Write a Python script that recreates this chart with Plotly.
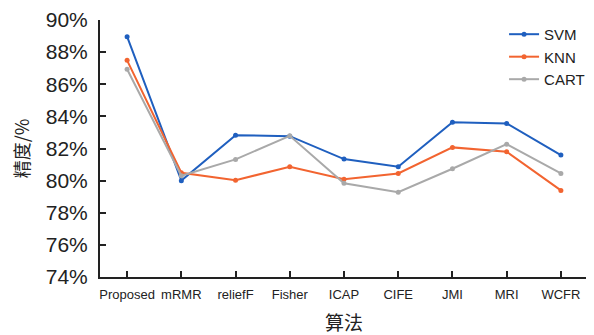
import plotly.graph_objects as go

categories = ["Proposed", "mRMR", "reliefF", "Fisher", "ICAP", "CIFE", "JMI", "MRI", "WCFR"]
svm = [88.96, 80.0, 82.83, 82.77, 81.34, 80.86, 83.64, 83.56, 81.59]
knn = [87.49, 80.49, 80.03, 80.86, 80.09, 80.45, 82.07, 81.80, 79.39]
cart = [86.93, 80.30, 81.32, 82.79, 79.83, 79.28, 80.74, 82.27, 80.45]
y_ticks = [74, 76, 78, 80, 82, 84, 86, 88, 90]
y_ticktext = [f"{v}%" for v in y_ticks]

series = [("SVM", svm, "#1f5fbf"), ("KNN", knn, "#f26430"), ("CART", cart, "#a9a9a9")]

x_idx = list(range(len(categories)))
fig = go.Figure()
for name, vals, color in series:
    fig.add_trace(go.Scatter(
        x=x_idx, y=vals, name=name, mode="lines+markers",
        line=dict(color=color, width=2),
        marker=dict(color=color, size=5),
    ))

fig.update_layout(
    width=586, height=327,
    margin=dict(l=92, r=6, t=12, b=58, autoexpand=False),
    paper_bgcolor="white", plot_bgcolor="white",
    font=dict(family="Liberation Sans, Arial, sans-serif", color="#222222"),
    showlegend=True,
    legend=dict(x=0.828, y=1.008, xanchor="left", yanchor="top",
                font=dict(size=15, color="#222222"),
                bgcolor="rgba(0,0,0,0)", tracegroupgap=0, itemwidth=30),
    xaxis=dict(
        range=[-0.5, 8.5],
        tickmode="array",
        tickvals=x_idx + [8.5],
        ticktext=categories + [""],
        ticks="inside", ticklen=6, tickwidth=2, tickcolor="#222222",
        showline=True, linecolor="#222222", linewidth=2,
        showgrid=False, zeroline=False, automargin=False,
        tickfont=dict(size=13), ticklabelstandoff=4,
        title=dict(text="算法", font=dict(family="Noto Sans CJK SC", size=19), standoff=16),
    ),
    yaxis=dict(
        range=[74, 90],
        tickmode="array", tickvals=y_ticks, ticktext=y_ticktext,
        ticks="inside", ticklen=6, tickwidth=2, tickcolor="#222222",
        showline=True, linecolor="#222222", linewidth=2,
        showgrid=False, zeroline=False, automargin=False,
        tickfont=dict(size=21), ticklabelstandoff=6,
        title=dict(text="精度/%", font=dict(family="Noto Sans CJK SC", size=18), standoff=18),
    ),
)

fig.write_html("out.html")
